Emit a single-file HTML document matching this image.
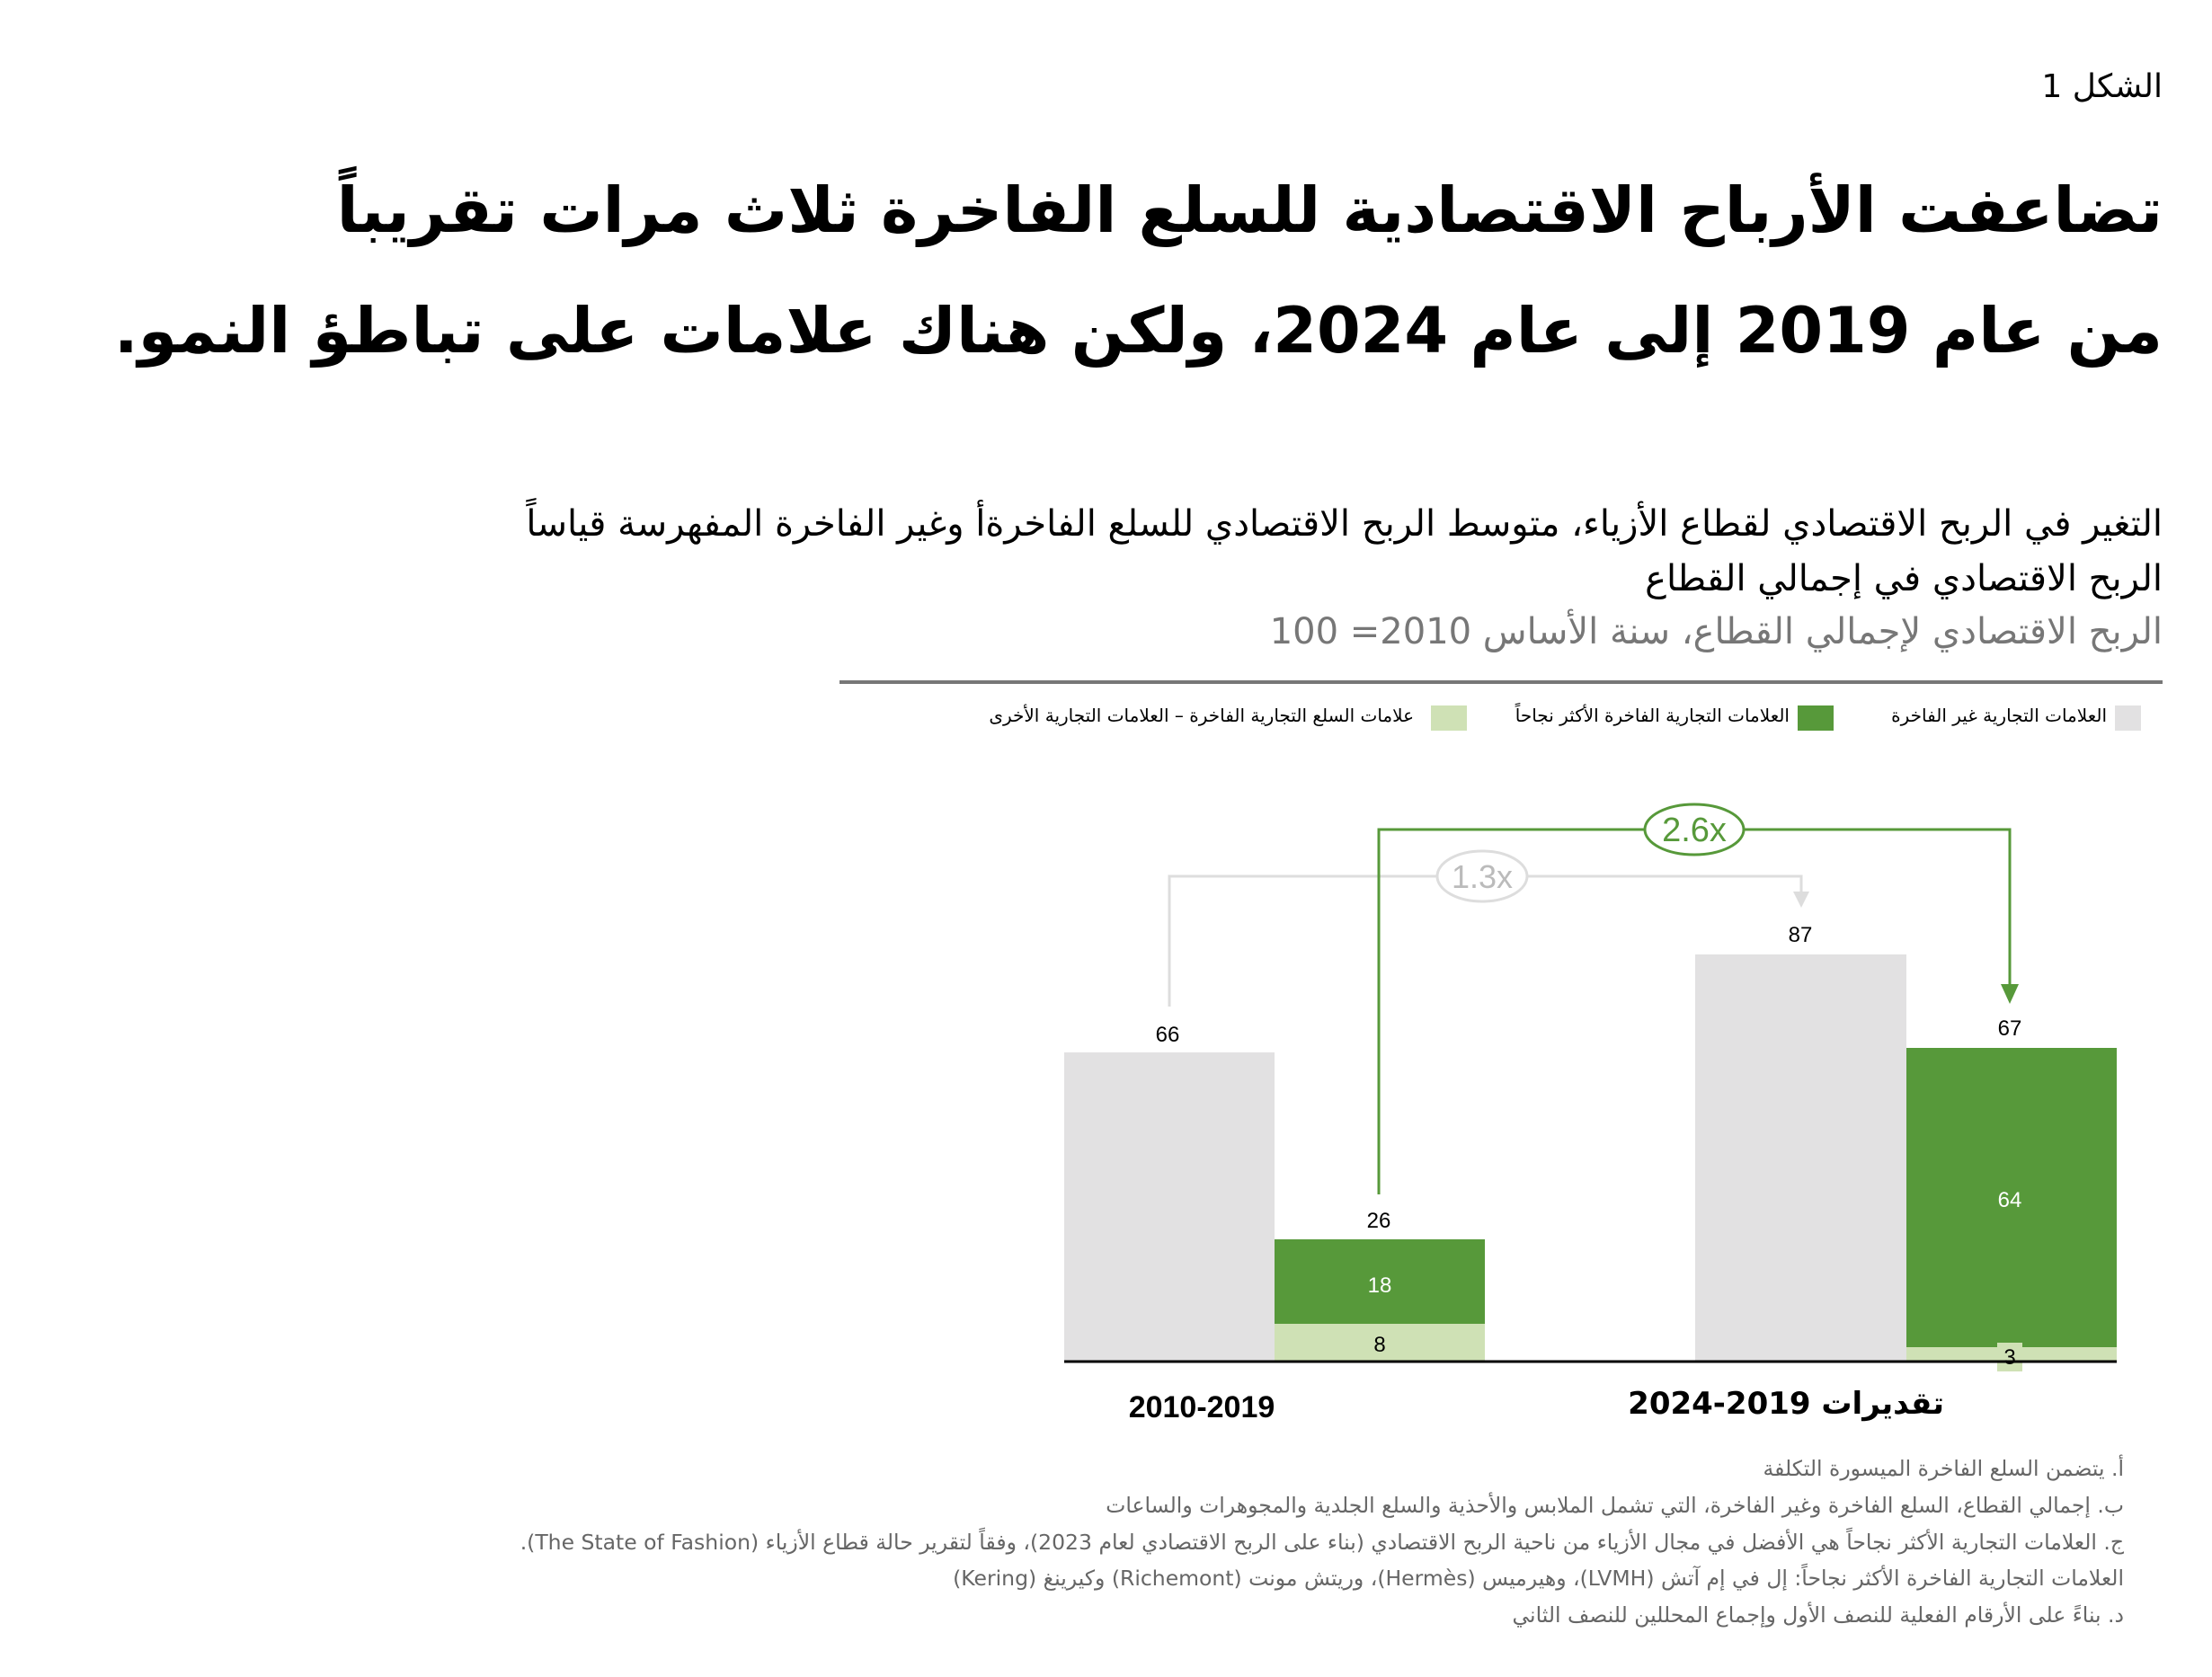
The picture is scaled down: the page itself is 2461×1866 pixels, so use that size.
<!DOCTYPE html>
<html><head><meta charset="utf-8"><style>
html,body{margin:0;padding:0;background:#fff;}
body{width:2461px;height:1866px;position:relative;overflow:hidden;font-family:"DejaVu Sans","Liberation Sans",sans-serif;}
.t{position:absolute;direction:rtl;text-align:right;white-space:nowrap;color:#000;}
.fn{position:absolute;right:98px;direction:rtl;white-space:nowrap;color:#666;font-size:23.5px;}
svg{position:absolute;left:0;top:0;}
</style></head><body>
<div class="t" style="right:55px;top:76px;font-size:36px;">الشكل 1</div>
<div class="t" style="right:55px;top:167px;font-size:70px;font-weight:bold;line-height:134px;">تضاعفت الأرباح الاقتصادية للسلع الفاخرة ثلاث مرات تقريباً<br>من عام 2019 إلى عام 2024، ولكن هناك علامات على تباطؤ النمو.</div>
<div class="t" style="right:55px;top:553px;font-size:40px;line-height:61px;">التغير في الربح الاقتصادي لقطاع الأزياء، متوسط الربح الاقتصادي للسلع الفاخرةأ وغير الفاخرة المفهرسة قياساً<br>الربح الاقتصادي في إجمالي القطاع</div>
<div class="t" style="right:55px;top:680px;font-size:40px;color:#777;">الربح الاقتصادي لإجمالي القطاع، سنة الأساس 2010= 100</div>

<svg width="2461" height="1866" xmlns="http://www.w3.org/2000/svg">
<rect x="934" y="757" width="1472" height="4" fill="#777"/>
<rect x="2353" y="785" width="29" height="28" fill="#e2e1e2"/>
<rect x="2000" y="785" width="40" height="28" fill="#57993a"/>
<rect x="1592" y="785" width="40" height="28" fill="#cfe1b5"/>
<rect x="1184" y="1171" width="234" height="344" fill="#e2e1e2"/>
<rect x="1418" y="1379" width="234" height="94" fill="#57993a"/>
<rect x="1418" y="1473" width="234" height="42" fill="#cfe1b5"/>
<rect x="1886" y="1062" width="235" height="453" fill="#e2e1e2"/>
<rect x="2121" y="1166" width="234" height="333" fill="#57993a"/>
<rect x="2121" y="1499" width="234" height="16" fill="#cfe1b5"/>
<rect x="2222" y="1494" width="28" height="32" fill="#cfe1b5"/>
<line x1="1184" y1="1515" x2="2355" y2="1515" stroke="#000" stroke-width="3"/>
<polyline points="1301,1120 1301,975 2004,975 2004,995" fill="none" stroke="#ddd" stroke-width="3"/>
<polygon points="1995,992 2013,992 2004,1010" fill="#ddd"/>
<ellipse cx="1649" cy="975" rx="50" ry="28" fill="#fff" stroke="#ddd" stroke-width="3"/>
<text x="1649" y="988" font-size="36" fill="#bbb" text-anchor="middle" font-family="Liberation Sans, sans-serif">1.3x</text>
<polyline points="1534,1329 1534,923 2236,923 2236,1100" fill="none" stroke="#57993a" stroke-width="3"/>
<polygon points="2226,1095 2246,1095 2236,1117" fill="#57993a"/>
<ellipse cx="1885" cy="923" rx="55" ry="28" fill="#fff" stroke="#57993a" stroke-width="3"/>
<text x="1885" y="936" font-size="38" fill="#57993a" text-anchor="middle" font-family="Liberation Sans, sans-serif">2.6x</text>
<g font-family="Liberation Sans, sans-serif" font-size="24" text-anchor="middle">
<text x="1299" y="1159">66</text>
<text x="1534" y="1366">26</text>
<text x="2003" y="1048">87</text>
<text x="2236" y="1152">67</text>
<text x="1535" y="1438" fill="#fff">18</text>
<text x="1535" y="1504">8</text>
<text x="2236" y="1343" fill="#fff">64</text>
<text x="2236" y="1518">3</text>
</g>
<text x="1337" y="1577" font-size="34" font-weight="bold" text-anchor="middle" font-family="Liberation Sans, sans-serif">2010-2019</text>
</svg>
<div class="t" style="right:117px;top:784px;font-size:20px;">العلامات التجارية غير الفاخرة</div>
<div class="t" style="right:470px;top:784px;font-size:20px;">العلامات التجارية الفاخرة الأكثر نجاحاً</div>
<div class="t" style="right:888px;top:784px;font-size:20px;">علامات السلع التجارية الفاخرة – العلامات التجارية الأخرى</div>
<div class="t" style="right:298px;top:1542px;font-size:34px;font-weight:bold;">تقديرات <span dir="ltr" style="unicode-bidi:isolate;">2024-2019</span></div>
<div class="fn" style="top:1620px;">أ. يتضمن السلع الفاخرة الميسورة التكلفة</div>
<div class="fn" style="top:1661px;">ب. إجمالي القطاع، السلع الفاخرة وغير الفاخرة، التي تشمل الملابس والأحذية والسلع الجلدية والمجوهرات والساعات</div>
<div class="fn" style="top:1702px;">ج. العلامات التجارية الأكثر نجاحاً هي الأفضل في مجال الأزياء من ناحية الربح الاقتصادي (بناء على الربح الاقتصادي لعام 2023)، وفقاً لتقرير حالة قطاع الأزياء (The State of Fashion).</div>
<div class="fn" style="top:1742px;">العلامات التجارية الفاخرة الأكثر نجاحاً: إل في إم آتش (LVMH)، وهيرميس (Hermès)، وريتش مونت (Richemont) وكيرينغ (Kering)</div>
<div class="fn" style="top:1783px;">د. بناءً على الأرقام الفعلية للنصف الأول وإجماع المحللين للنصف الثاني</div>
</body></html>
